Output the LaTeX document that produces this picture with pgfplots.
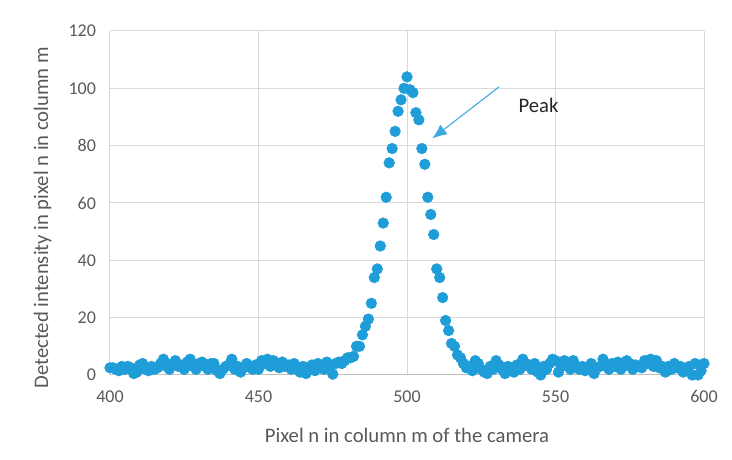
\documentclass[border=0pt]{standalone}
\usepackage{pgfplots}
\pgfplotsset{compat=1.18}
\usepackage{pgfplotstable}
\usetikzlibrary{arrows.meta}
\usepackage{fontspec}
\setmainfont{Carlito}

\definecolor{dotblue}{RGB}{30,157,216}
\definecolor{arrowblue}{RGB}{60,170,222}
\definecolor{txtgray}{RGB}{89,89,89}
\definecolor{gridgray}{RGB}{217,217,217}
\definecolor{axgray}{RGB}{191,191,191}

% intensity along one column of the sensor
\pgfplotstableread{
n I
400 2.5
401 2.5
402 2
403 1.5
404 3
405 2
406 3
407 2.5
408 0.5
409 1
410 3.5
411 4
412 2
413 1.5
414 3
415 2
416 2.5
417 4
418 5.5
419 3
420 2
421 4
422 5
423 3
424 3.5
425 2
426 4.5
427 5.5
428 3
429 2
430 4
431 4.5
432 3
433 2
434 4
435 4
436 1.5
437 0.5
438 2
439 3
440 3.5
441 5.5
442 2
443 3
444 1
445 2.5
446 4
447 3
448 2
449 3.5
450 2
451 5
452 4
453 5.5
454 3
455 5
456 4
457 2.5
458 4.5
459 3
460 3.5
461 2
462 4
463 2
464 1
465 3
466 0.5
467 2
468 3.5
469 1.5
470 4
471 3
472 2
473 4.5
474 3
475 0.3
476 4
477 4.5
478 4
479 5
480 6
481 6
482 6.5
483 10
484 10
485 14
486 17
487 19.5
488 25
489 34
490 37
491 45
492 53
493 62
494 74
495 79
496 85
497 92
498 96
499 100
500 104
501 99.5
502 98.5
503 91.5
504 89
505 79
506 73.5
507 62
508 56
509 49
510 37
511 34
512 27
513 19
514 15.5
515 11
516 10
517 7
518 6
519 4
520 2.5
521 3
522 1.5
523 5
524 4
525 2
526 1
527 0.5
528 3
529 2
530 5
531 3.5
532 2
533 0.5
534 3
535 2.5
536 1
537 3.5
538 2
539 5.5
540 4
541 3
542 2
543 4
544 1
545 0
546 3
547 2
548 4
549 5.5
550 5
551 1
552 3
553 5
554 4
555 2
556 5
557 3
558 2
559 3
560 1.5
561 2
562 4
563 0.5
564 2.5
565 3
566 5.5
567 3
568 2
569 4
570 3
571 4.5
572 2
573 3
574 5
575 4
576 2
577 3.5
578 3
579 2.5
580 5
581 4
582 5.5
583 3
584 5
585 2.5
586 3
587 1
588 3
589 2
590 4
591 2.5
592 3
593 1
594 2
595 3
596 0
597 4
598 0
599 1.5
600 4
}\column

\begin{document}
\begin{tikzpicture}
\useasboundingbox (-82.5pt,-63.75pt) rectangle (466.5pt,281.25pt);
\begin{axis}[
  at={(0,0)}, anchor=south west,
  scale only axis,
  width=445.5pt, height=258pt,
  xmin=400, xmax=600, ymin=0, ymax=120,
  xtick={400,450,...,600},
  ytick={0,20,...,120},
  grid=major,
  major grid style={gridgray, line width=0.75pt},
  axis line style={draw=none},
  tick style={draw=none},
  ticklabel style={font=\fontsize{13.5}{16}\selectfont, text=txtgray},
  /pgf/number format/assume math mode=true,
  xticklabel style={yshift=-8pt},
  yticklabel style={xshift=-7pt},
  xlabel={Pixel n in column m of the camera},
  ylabel={Detected intensity in pixel n in column m},
  label style={font=\fontsize{15.5}{18}\selectfont, text=txtgray},
  xlabel style={yshift=-12pt},
  ylabel style={yshift=6pt, xshift=-11pt},
  clip=false,
]
\draw[axgray, line width=0.75pt] (axis cs:400,0) -- (axis cs:600,0);
\addplot[only marks, mark=*, mark size=4pt,
  mark options={fill=dotblue, draw=dotblue}] table[x=n, y=I] {\column};
\draw[arrowblue, line width=0.8pt, -{Latex[length=11pt,width=9pt]}]
  (axis cs:531,100.5) -- (axis cs:508.5,82.5);
\node[anchor=west, font=\fontsize{15.5}{18}\selectfont, text=black!85]
  at (axis cs:536,94) {Peak};
\end{axis}
\end{tikzpicture}
\end{document}
